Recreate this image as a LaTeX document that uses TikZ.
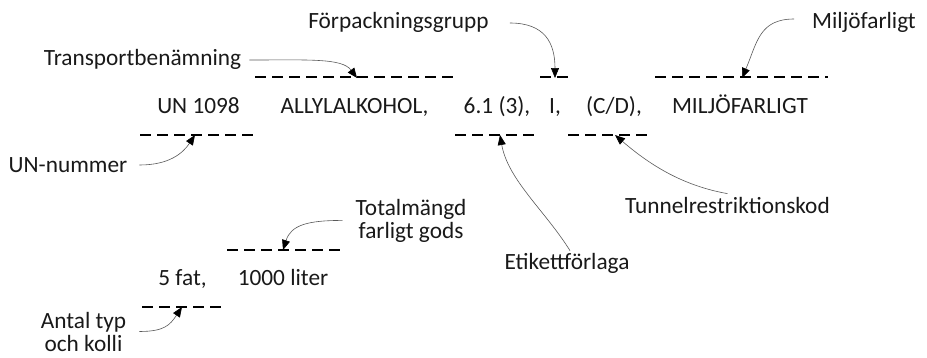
\documentclass[tikz,border=0pt]{standalone}
\usepackage{fontspec}
\setmainfont{Carlito}
\usetikzlibrary{arrows.meta}
\tikzset{
  lbl/.style={font=\fontsize{23.3}{23}\selectfont, inner sep=0pt, anchor=base, text=black!90},
  mlbl/.style={lbl, align=center},
  slot/.style={draw=black, line width=1.3pt, dash pattern=on 11pt off 6pt},
  pointer/.style={draw=black!65, line width=0.6pt, -{Triangle[length=10pt,width=8pt,color=black]}}
}
\begin{document}
\begin{tikzpicture}[x=1pt,y=-1pt]
\useasboundingbox (0,0) rectangle (927,357);
% main row
\node[lbl] (v1) at (198.5,113) {UN 1098};
\node[lbl] (v2) at (354.5,113) {ALLYLALKOHOL,};
\node[lbl] (v3) at (497,113) {6.1 (3),};
\node[lbl] (v4) at (555,113) {I,};
\node[lbl] (v5) at (614,113) {(C/D),};
\node[lbl] (v6) at (740,113) {MILJÖFARLIGT};
\node[lbl] (v7) at (182.5,285) {5 fat,};
\node[lbl] (v8) at (283,285) {1000 liter};
% labels
\node[lbl] (tr) at (142.5,65) {Transportbenämning};
\node[lbl] (fp) at (398.5,28) {Förpackningsgrupp};
\node[lbl] (mf) at (864,28) {Miljöfarligt};
\node[lbl] (un) at (68,172) {UN-nummer};
\node[lbl] (et) at (567,269) {Etikettförlaga};
\node[lbl] (tu) at (727.5,213) {Tunnelrestriktionskod};
\node[mlbl] (tm) at (411,238) {Totalmängd\\farligt gods};
\node[mlbl] (ak) at (83.5,351) {Antal typ\\och kolli};
% slots
\coordinate (d1a) at (255,77);  \coordinate (d1b) at (457,77);
\coordinate (d2a) at (540,77);  \coordinate (d2b) at (568,77);
\coordinate (d3a) at (655,77);  \coordinate (d3b) at (828,77);
\coordinate (d4a) at (140,135); \coordinate (d4b) at (257,135);
\coordinate (d5a) at (455,135); \coordinate (d5b) at (540,135);
\coordinate (d6a) at (568,135); \coordinate (d6b) at (653,135);
\coordinate (d7a) at (227,250); \coordinate (d7b) at (342,250);
\coordinate (d8a) at (142,307); \coordinate (d8b) at (222,307);
\foreach \i in {1,...,8} {\draw[slot] (d\i a) -- (d\i b);}
% arrow targets
\coordinate (t1) at (357,78);
\coordinate (t2) at (555,78);
\coordinate (t3) at (742,78);
\coordinate (t4) at (195,135);
\coordinate (t5) at (500,135);
\coordinate (t6) at (615,135);
\coordinate (t7) at (283,250);
\coordinate (t8) at (182,307);
% pointers
\draw[pointer] ([xshift=8pt,yshift=5pt]tr.base east) .. controls +(60,0) and +(-15,-20) .. (t1);
\draw[pointer] ([xshift=21pt,yshift=5pt]fp.base east) .. controls +(35,0) and +(0,-35) .. (t2);
\draw[pointer] ([xshift=-18pt,yshift=9pt]mf.base west) .. controls +(-35,0) and +(15,-35) .. (t3);
\draw[pointer] ([xshift=12pt,yshift=7pt]un.base east) .. controls +(30,0) and +(-12,18) .. (t4);
\draw[pointer] ([xshift=3pt,yshift=2pt]et.north) .. controls +(-25,-40) and +(8,45) .. (t5);
\draw[pointer] ([yshift=3pt]tu.north) .. controls +(-45,-8) and +(35,30) .. (t6);
\draw[pointer] ([xshift=-13pt]tm.west) .. controls +(-35,0) and +(8,-25) .. (t7);
\draw[pointer] ([xshift=13pt]ak.east) .. controls +(25,0) and +(-12,18) .. (t8);
\end{tikzpicture}
\end{document}
